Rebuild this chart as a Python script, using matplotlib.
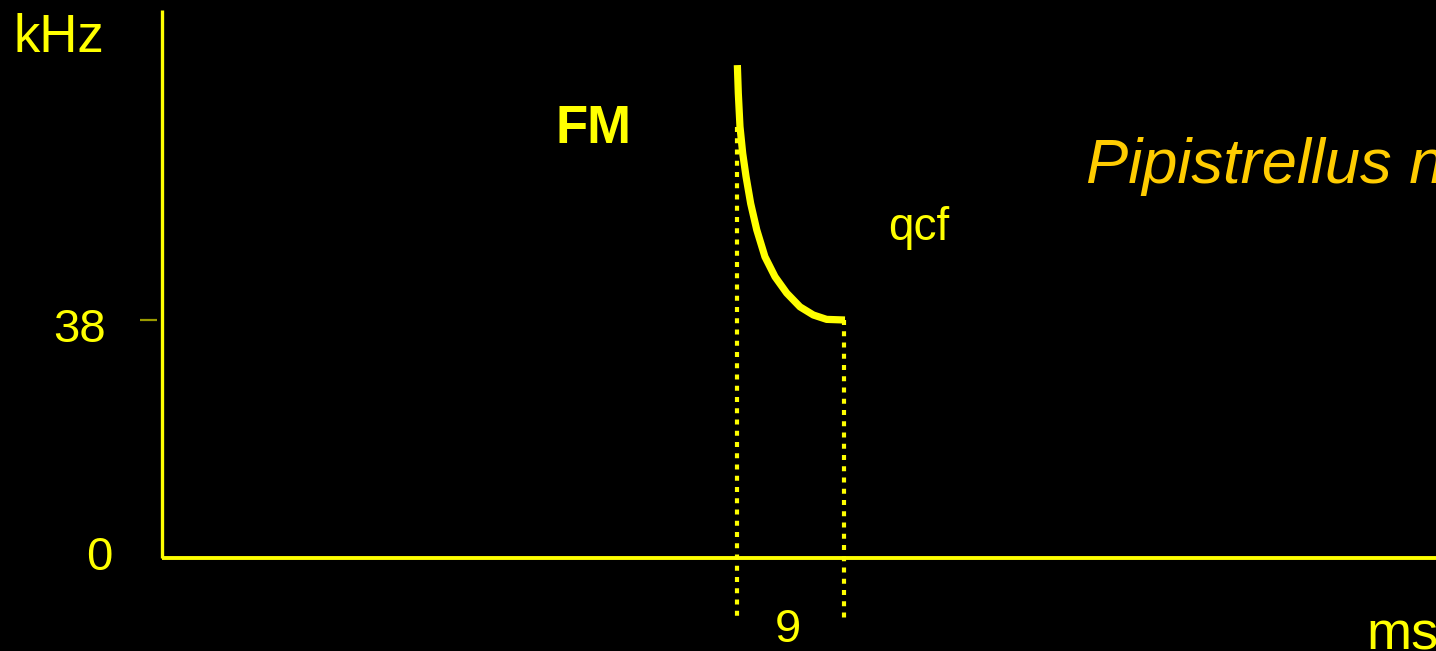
import matplotlib
matplotlib.use("Agg")
import matplotlib.pyplot as plt

# ---- data ----
call_time_ms = [48.39, 48.47, 48.61, 48.84, 49.12, 49.51, 50.02, 50.71, 51.56, 52.54,
                53.66, 54.78, 55.90, 57.44]
call_freq_khz = [78.7, 74.2, 68.9, 64.6, 60.9, 56.6, 52.4, 48.1, 44.9, 42.3,
                 40.1, 38.8, 38.1, 38.0]
start_ms = 48.4
end_ms = 57.4
qcf_khz = 38
duration_label = "9"
ytick_labels = ["0", "38"]
ytick_values = [0, 38]

YEL = "#ffff00"
ORG = "#ffcc00"
FONT = "Liberation Sans"

W, H = 1436, 651
fig = plt.figure(figsize=(W / 100, H / 100), dpi=100)
fig.patch.set_facecolor("black")
ax = fig.add_axes([0, 0, 1, 1])
ax.set_facecolor("black")
ax.axis("off")

PXMS = 11.89
PXKHZ = 6.263
X0, Y0 = 162, 558


def X(px):
    return (px - X0) / PXMS


def Y(py):
    return (Y0 - py) / PXKHZ


ax.set_xlim(X(0), X(W))
ax.set_ylim(Y(H), Y(0))

# axes lines
ax.plot([0, 0], [0, Y(10)], color=YEL, lw=2.4, solid_capstyle="butt")
ax.plot([0, X(W + 10)], [0, 0], color=YEL, lw=2.8, solid_capstyle="butt")

# tick at 38
ax.plot([X(140), X(157)], [ytick_values[1], ytick_values[1]], color="#9a9a00", lw=1.6,
        solid_capstyle="butt")

# dotted guides
dot = (0, (1.2, 1.5))
ax.plot([start_ms, start_ms], [Y(127), Y(618)], color=YEL, lw=3.0,
        linestyle=dot, dash_capstyle="butt")
ax.plot([end_ms, end_ms], [qcf_khz, Y(618)], color=YEL, lw=3.0,
        linestyle=dot, dash_capstyle="butt")

# call curve
ax.plot(call_time_ms, call_freq_khz, color=YEL, lw=5.2, solid_capstyle="butt",
        solid_joinstyle="round")

# texts
ax.text(X(14), Y(52), "kHz", color=YEL, fontsize=38, family=FONT, ha="left", va="baseline")
ax.text(X(106), Y(342), ytick_labels[1], color=YEL, fontsize=34, family=FONT, ha="right", va="baseline")
ax.text(X(112), Y(570), ytick_labels[0], color=YEL, fontsize=34, family=FONT, ha="right", va="baseline")
ax.text(X(788), Y(642), duration_label, color=YEL, fontsize=34, family=FONT, ha="center", va="baseline")
ax.text(X(1366), Y(650), "ms", color=YEL, fontsize=39, family=FONT, ha="left", va="baseline")
ax.text(X(555), Y(143), "FM", color=YEL, fontsize=38, family=FONT, weight="bold", ha="left", va="baseline")
ax.text(X(888), Y(240), "qcf", color=YEL, fontsize=33, family=FONT, ha="left", va="baseline")
ax.text(X(1086), Y(183), "Pipistrellus nathusii", color=ORG, fontsize=45.5, family=FONT,
        style="italic", ha="left", va="baseline")

fig.savefig("out.png", dpi=100, facecolor="black")
